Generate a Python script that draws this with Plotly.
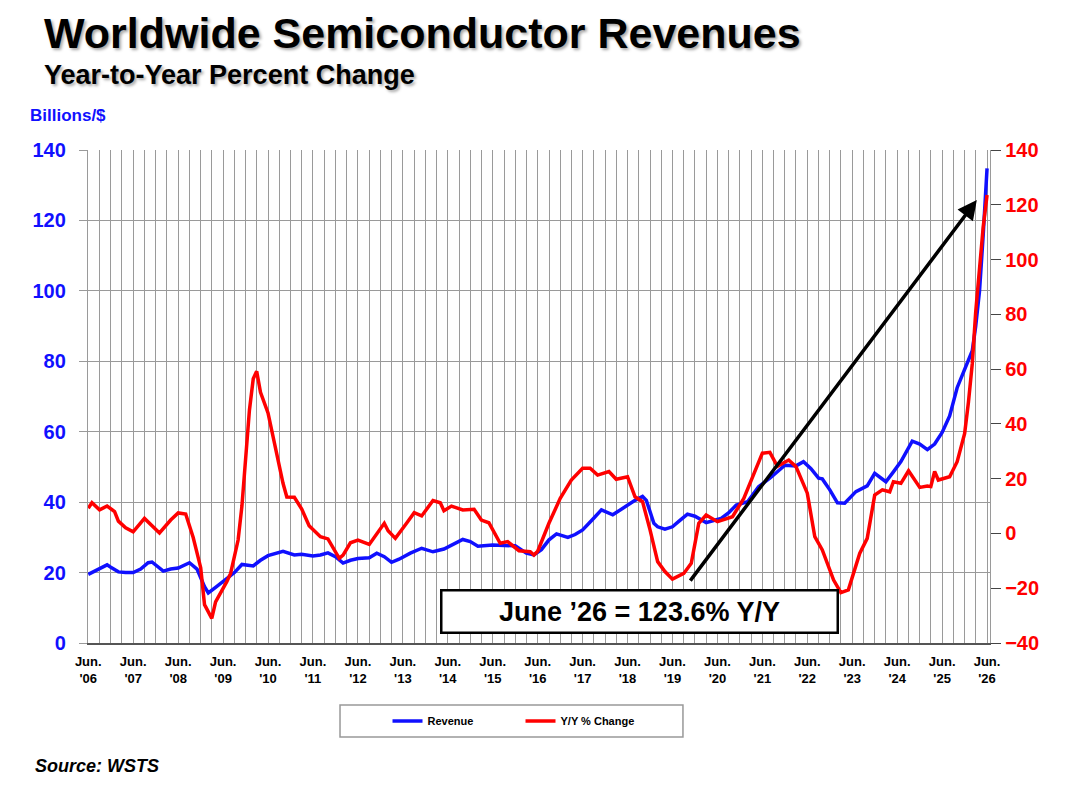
import plotly.graph_objects as go

# --- data (3-month moving data, Jun '06 - Jun '26) ---
rev_dates = [
    "2006-06", "2006-08", "2006-11", "2006-12", "2007-02", "2007-04", "2007-06", "2007-08",
    "2007-10", "2007-11", "2008-02", "2008-04", "2008-06", "2008-09", "2008-11", "2009-01",
    "2009-02", "2009-04", "2009-06", "2009-09", "2009-11", "2010-02", "2010-04", "2010-06",
    "2010-10", "2011-01", "2011-03", "2011-06", "2011-08", "2011-10", "2011-12", "2012-02",
    "2012-04", "2012-06", "2012-09", "2012-11", "2013-01", "2013-03", "2013-05", "2013-08",
    "2013-11", "2014-02", "2014-05", "2014-08", "2014-10", "2014-12", "2015-02", "2015-06",
    "2015-09", "2015-12", "2016-03", "2016-05", "2016-07", "2016-09", "2016-11", "2017-02",
    "2017-04", "2017-06", "2017-09", "2017-11", "2018-02", "2018-04", "2018-06", "2018-08",
    "2018-10", "2018-11", "2019-01", "2019-02", "2019-04", "2019-06", "2019-08", "2019-10",
    "2019-12", "2020-03", "2020-05", "2020-07", "2020-09", "2020-11", "2021-02", "2021-05",
    "2021-08", "2021-10", "2021-12", "2022-03", "2022-05", "2022-07", "2022-09", "2022-10",
    "2022-12", "2023-02", "2023-04", "2023-07", "2023-10", "2023-12", "2024-03", "2024-05",
    "2024-07", "2024-10", "2024-12", "2025-02", "2025-04", "2025-06", "2025-08", "2025-10",
    "2025-12", "2026-02", "2026-03", "2026-04", "2026-05", "2026-06",
]
revenue = [
    19.5, 20.5, 22.2, 21.5, 20.2, 20.0, 20.0, 21.0,
    22.8, 23.0, 20.4, 21.0, 21.3, 22.8, 21.0, 16.0,
    14.2, 15.8, 17.4, 20.0, 22.3, 21.9, 23.5, 24.8,
    26.0, 25.0, 25.2, 24.7, 25.0, 25.6, 24.5, 22.7,
    23.5, 24.0, 24.2, 25.5, 24.5, 22.9, 23.8, 25.5,
    26.9, 25.9, 26.7, 28.2, 29.4, 28.8, 27.5, 27.8,
    27.8, 27.6, 25.5, 25.0, 26.5, 29.3, 31.0, 30.0,
    30.8, 32.1, 35.5, 37.8, 36.4, 37.8, 39.0, 40.5,
    41.6, 40.5, 34.0, 33.0, 32.3, 33.0, 34.8, 36.6,
    36.0, 34.2, 34.8, 35.4, 37.0, 39.2, 40.1, 44.4,
    46.8, 48.5, 50.5, 50.3, 51.5, 49.5, 46.8, 46.6,
    43.5, 39.8, 39.7, 43.0, 44.6, 48.2, 45.8, 48.6,
    51.5, 57.3, 56.5, 54.9, 56.5, 59.8, 64.5, 72.5,
    77.5, 83.0, 90.0, 100.0, 116.0, 134.8,
]

yoy_dates = [
    "2006-06", "2006-07", "2006-09", "2006-11", "2007-01", "2007-02", "2007-04", "2007-06",
    "2007-09", "2007-11", "2008-01", "2008-04", "2008-06", "2008-08", "2008-10", "2008-12",
    "2009-01", "2009-03", "2009-04", "2009-07", "2009-08", "2009-10", "2009-11", "2010-01",
    "2010-02", "2010-03", "2010-04", "2010-06", "2010-08", "2010-10", "2010-11", "2011-01",
    "2011-03", "2011-05", "2011-08", "2011-10", "2012-01", "2012-02", "2012-04", "2012-06",
    "2012-09", "2013-01", "2013-02", "2013-04", "2013-07", "2013-09", "2013-11", "2014-02",
    "2014-04", "2014-05", "2014-07", "2014-10", "2015-01", "2015-03", "2015-05", "2015-08",
    "2015-10", "2016-01", "2016-04", "2016-05", "2016-06", "2016-09", "2016-12", "2017-03",
    "2017-06", "2017-08", "2017-10", "2018-01", "2018-03", "2018-06", "2018-08", "2018-10",
    "2018-12", "2019-02", "2019-04", "2019-06", "2019-09", "2019-11", "2020-01", "2020-03",
    "2020-06", "2020-10", "2021-01", "2021-03", "2021-06", "2021-08", "2021-10", "2022-01",
    "2022-03", "2022-06", "2022-08", "2022-10", "2023-01", "2023-03", "2023-05", "2023-08",
    "2023-10", "2023-12", "2024-02", "2024-04", "2024-05", "2024-07", "2024-09", "2024-12",
    "2025-02", "2025-03", "2025-04", "2025-05", "2025-08", "2025-10", "2025-11", "2025-12",
    "2026-01", "2026-02", "2026-03", "2026-04", "2026-05", "2026-06",
]
yoy_change = [
    9.2, 11.2, 8.6, 10.0, 8.0, 4.5, 2.1, 0.6,
    5.5, 2.8, 0.2, 4.9, 7.5, 7.1, -1.5, -12.5,
    -26.0, -31.0, -25.0, -17.6, -14.6, -2.4, 10.0, 45.0,
    56.5, 59.2, 51.5, 44.0, 31.0, 18.3, 13.3, 13.2,
    9.0, 2.8, -1.2, -2.0, -9.1, -7.9, -3.4, -2.4,
    -4.0, 3.7, 1.0, -1.8, 3.7, 7.6, 6.4, 12.0,
    11.2, 8.3, 10.0, 8.6, 8.8, 4.9, 3.9, -3.6,
    -3.0, -6.3, -6.7, -7.9, -6.5, 3.8, 12.8, 19.5,
    23.8, 23.8, 21.3, 22.6, 19.8, 20.7, 13.4, 11.6,
    1.3, -10.3, -13.9, -16.7, -14.6, -10.9, 3.7, 6.7,
    4.3, 6.1, 12.8, 19.5, 29.3, 29.6, 24.5, 26.8,
    24.4, 14.7, -1.2, -6.0, -17.0, -21.6, -20.6, -7.3,
    -1.8, 14.0, 15.9, 15.2, 18.9, 18.3, 22.9, 16.8,
    17.3, 17.1, 22.6, 19.5, 20.7, 26.2, 32.0, 36.5,
    48.0, 62.0, 81.0, 98.0, 112.0, 123.6,
]

tick_dates = [
    "2006-06-01", "2007-06-01", "2008-06-01", "2009-06-01", "2010-06-01", "2011-06-01",
    "2012-06-01", "2013-06-01", "2014-06-01", "2015-06-01", "2016-06-01", "2017-06-01",
    "2018-06-01", "2019-06-01", "2020-06-01", "2021-06-01", "2022-06-01", "2023-06-01",
    "2024-06-01", "2025-06-01", "2026-06-01",
]
tick_labels = [
    "Jun.<br>'06", "Jun.<br>'07", "Jun.<br>'08", "Jun.<br>'09", "Jun.<br>'10", "Jun.<br>'11",
    "Jun.<br>'12", "Jun.<br>'13", "Jun.<br>'14", "Jun.<br>'15", "Jun.<br>'16", "Jun.<br>'17",
    "Jun.<br>'18", "Jun.<br>'19", "Jun.<br>'20", "Jun.<br>'21", "Jun.<br>'22", "Jun.<br>'23",
    "Jun.<br>'24", "Jun.<br>'25", "Jun.<br>'26",
]

FONT = "Arial, Liberation Sans, sans-serif"
BLUE = "#1010ff"
RED = "#ff0000"
GRID = "#9a9a9a"

fig = go.Figure()

fig.add_trace(go.Scatter(
    x=rev_dates, y=revenue, name="Revenue", mode="lines",
    line=dict(color=BLUE, width=3.5),
))
fig.add_trace(go.Scatter(
    x=yoy_dates, y=yoy_change, name="Y/Y % Change", mode="lines",
    line=dict(color=RED, width=3.5), yaxis="y2",
))

# page body has an 8px margin, so the figure is sized to fit inside the window
fig.update_layout(
    width=1072, height=782,
    margin=dict(l=80, r=90, t=142, b=147),
    plot_bgcolor="white", paper_bgcolor="white",
    font=dict(family=FONT, color="black"),
    showlegend=True,
    legend=dict(
        orientation="h", x=0.4795, xanchor="center", y=-0.158, yanchor="middle",
        font=dict(family=FONT, size=11, weight="bold"),
        bgcolor="rgba(0,0,0,0)", entrywidth=88, entrywidthmode="pixels",
    ),
    xaxis=dict(
        type="date",
        range=["2006-05-30", "2026-06-25"],
        tickvals=tick_dates, ticktext=tick_labels,
        tickfont=dict(family=FONT, size=13, weight="bold", color="black"),
        ticks="", ticklabelstandoff=5,
        showgrid=True, gridcolor=GRID, gridwidth=1.3,
        minor=dict(dtick="M3", tick0="2006-06-01", showgrid=True,
                   gridcolor=GRID, gridwidth=1.3),
        showline=True, linecolor="#555555", linewidth=2,
        zeroline=False,
    ),
    yaxis=dict(
        range=[0, 140], dtick=20,
        tickfont=dict(family=FONT, size=20, weight="bold", color=BLUE),
        ticks="outside", ticklen=8, tickcolor=GRID, tickwidth=1.3,
        ticklabelstandoff=9,
        showgrid=True, gridcolor=GRID, gridwidth=1.3,
        showline=True, linecolor=GRID, linewidth=1.3,
        zeroline=False,
    ),
    yaxis2=dict(
        range=[-40, 140], dtick=20, overlaying="y", side="right",
        tickfont=dict(family=FONT, size=20, weight="bold", color=RED),
        ticks="outside", ticklen=10, tickcolor="#444444", tickwidth=1.3,
        showgrid=False, showline=True, linecolor=GRID, linewidth=1.3,
        zeroline=False,
    ),
)

# legend frame
fig.add_shape(
    type="rect", xref="paper", yref="paper",
    x0=0.2794, x1=0.6596, y0=-0.1907, y1=-0.1258,
    line=dict(color="#999999", width=1.5), fillcolor="rgba(0,0,0,0)",
)

shadow = "2px 2px 3px rgba(0,0,0,0.35)"

fig.add_annotation(
    text="<b>Worldwide Semiconductor Revenues</b>",
    xref="paper", yref="paper", x=-0.051, y=1.237,
    xanchor="left", yanchor="middle", showarrow=False,
    font=dict(family=FONT, size=43, color="black", shadow=shadow),
)
fig.add_annotation(
    text="<b>Year-to-Year Percent Change</b>",
    xref="paper", yref="paper", x=-0.051, y=1.152,
    xanchor="left", yanchor="middle", showarrow=False,
    font=dict(family=FONT, size=27, color="black", shadow=shadow),
)
fig.add_annotation(
    text="<b>Billions/$</b>",
    xref="paper", yref="paper", x=-0.066, y=1.069,
    xanchor="left", yanchor="middle", showarrow=False,
    font=dict(family=FONT, size=17, color=BLUE),
)
fig.add_annotation(
    text="<b><i>Source: WSTS</i></b>",
    xref="paper", yref="paper", x=-0.061, y=-0.250,
    xanchor="left", yanchor="middle", showarrow=False,
    font=dict(family=FONT, size=18, color="black"),
)

# arrow pointing at the latest reading
fig.add_annotation(
    x="2026-03-10", y=125.8, ax="2019-10-15", ay=17.3,
    xref="x", yref="y", axref="x", ayref="y",
    text="", showarrow=True, arrowhead=2, arrowsize=1.1,
    arrowwidth=3.5, arrowcolor="black",
)
fig.add_annotation(
    text="<b>June \u201926 = 123.6% Y/Y</b>",
    xref="paper", yref="paper", x=0.611, y=0.063,
    xanchor="center", yanchor="middle", showarrow=False,
    width=392, height=38, align="center",
    bgcolor="white", bordercolor="black", borderwidth=2.5, borderpad=1,
    font=dict(family=FONT, size=27, color="black"),
)

fig.write_html("out.html")
